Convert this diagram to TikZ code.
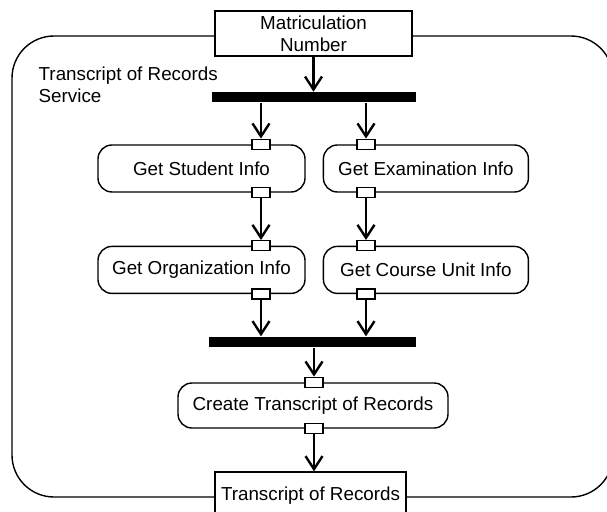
\documentclass[tikz,border=0pt]{standalone}
\usepackage{fontspec}
\setmainfont{Liberation Sans}
\usetikzlibrary{arrows.meta,positioning}

\begin{document}
\begin{tikzpicture}[x=1pt, y=1pt, font=\fontsize{18.8}{22}\selectfont, >={Straight Barb[length=13pt,width=17pt]}, line width=1.4pt,
  act/.style={draw, fill=white, rounded corners=14pt, minimum height=47pt, inner sep=0pt},
  obj/.style={draw, fill=white, inner sep=0pt},
  pinbox/.style={draw, fill=white, minimum width=18pt, minimum height=10pt, inner sep=0pt},
  bar/.style={fill=black, minimum width=204pt, minimum height=10pt, inner sep=0pt},
  flow/.style={->, line width=2.4pt}]
\useasboundingbox (0,0) rectangle (607,-511);
\clip (0,0) rectangle (607,-511);

% service frame
\node[draw, rounded corners=42pt, minimum width=601pt, minimum height=461pt] (svc) at (312.5,-266.5) {};
\node[anchor=north west, align=left, inner sep=0pt] (svclabel) at (38,-66) {Transcript of Records\\Service};

% input / output objects
\node[obj, minimum width=197pt, minimum height=45pt, align=center] (matnr) at (313.5,-33.5) {Matriculation\\Number};
\node[obj, minimum width=191pt, minimum height=48pt] (trans) at (310.5,-496) {Transcript of Records};

% fork
\node[bar, below=35pt of matnr] (fork) {};

% actions
\node[act, minimum width=207pt] (stud) at (201.5,-168.5) {Get Student Info};
\node[act, minimum width=205pt, right=17pt of stud] (exam) {Get Examination Info};
\node[act, minimum width=207pt, below=53pt of stud] (org) {Get Organization Info};
\node[act, minimum width=205pt, right=17pt of org] (course) {Get Course Unit Info};

% join
\node[bar, minimum width=207pt] (join) at (312.5,-342) {};

\node[act, minimum width=270pt, minimum height=45pt] (create) at (313,-405.5) {Create Transcript of Records};

% pins
\node[pinbox] (stud-in) at (stud.north -| 261,0) {};
\node[pinbox] (stud-out) at (stud.south -| 261,0) {};
\node[pinbox] (exam-in) at (exam.north -| 366,0) {};
\node[pinbox] (exam-out) at (exam.south -| 366,0) {};
\node[pinbox] (org-in) at (org.north -| 261,0) {};
\node[pinbox] (org-out) at (org.south -| 261,0) {};
\node[pinbox] (course-in) at (course.north -| 366,0) {};
\node[pinbox] (course-out) at (course.south -| 366,0) {};
\node[pinbox] (create-in) at (create.north -| 314,0) {};
\node[pinbox] (create-out) at (create.south -| 314,0) {};

% flows
\draw[flow] (matnr) -- (fork);
\draw[flow] (fork.south -| stud-in) -- (stud-in);
\draw[flow] (fork.south -| exam-in) -- (exam-in);
\draw[flow] (stud-out) -- (org-in);
\draw[flow] (exam-out) -- (course-in);
\draw[flow] (org-out) -- (org-out |- join.north);
\draw[flow] (course-out) -- (course-out |- join.north);
\draw[flow] (join.south -| create-in) -- (create-in);
\draw[flow] (create-out) -- (create-out |- trans.north);
\end{tikzpicture}
\end{document}
